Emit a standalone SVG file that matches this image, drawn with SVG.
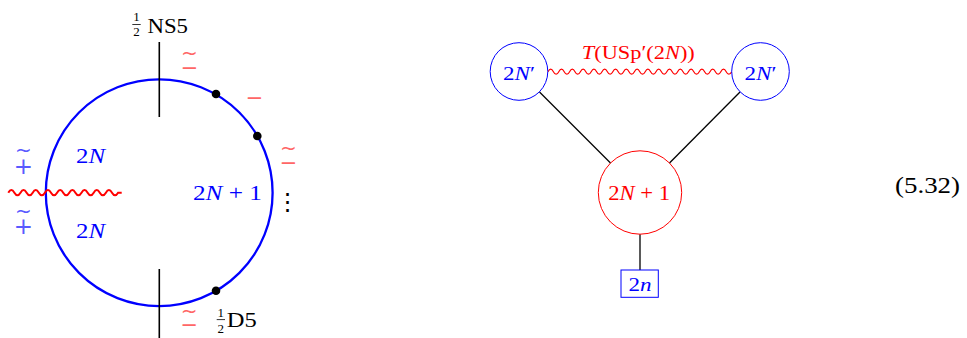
<svg xmlns="http://www.w3.org/2000/svg" width="967" height="338" viewBox="0 0 967 338">
<style>
.t{font-family:"Liberation Serif","Times New Roman",serif;}
.it{font-style:italic;}
.bl{fill:#0000ff;}
.rd{fill:#ff0000;}
.bk{fill:#000;}
.sym{font-family:"DejaVu Sans",sans-serif;text-anchor:middle;}
.rm{fill:#ff6666;}
.bm{fill:#5a5aff;}
.brane{stroke:#000;stroke-width:1.6;fill:none;}
.edge{stroke:#000;stroke-width:1.3;fill:none;}
</style>
<rect width="967" height="338" fill="#fff"/>

<!-- Left: brane circle -->
<g id="ring">
<circle cx="159.2" cy="192.7" r="113.4" fill="none" stroke="#0000ff" stroke-width="2.3"/>
</g>
<g id="ns5" font-family="Liberation Serif, serif">
<line class="brane" x1="159.3" y1="42" x2="159.3" y2="117"/>
<text class="t bk" x="136.5" y="21" font-size="13" text-anchor="middle">1</text>
<line x1="132.3" y1="24.5" x2="140.7" y2="24.5" stroke="#000" stroke-width="0.8"/>
<text class="t bk" x="136.5" y="35.5" font-size="13" text-anchor="middle">2</text>
<text class="t bk" x="147.5" y="33.3" font-size="20" textLength="40.5" lengthAdjust="spacingAndGlyphs">NS5</text>
</g>
<g id="d5" font-family="Liberation Serif, serif">
<line class="brane" x1="159.3" y1="269" x2="159.3" y2="338"/>
<text class="t bk" x="220.8" y="316.5" font-size="13" text-anchor="middle">1</text>
<line x1="216.7" y1="319.6" x2="225" y2="319.6" stroke="#000" stroke-width="0.8"/>
<text class="t bk" x="220.8" y="333" font-size="13" text-anchor="middle">2</text>
<text class="t bk" x="226.7" y="326.7" font-size="20" textLength="30" lengthAdjust="spacingAndGlyphs">D5</text>
</g>
<g id="dots">
<circle cx="216" cy="94" r="4.3" fill="#000"/>
<circle cx="257.3" cy="136" r="4.3" fill="#000"/>
<circle cx="216" cy="290.7" r="4.3" fill="#000"/>
</g>
<g id="o-plane">
<path d="M8.3,192.7 q3.05,-5.2 6.1,0 t6.1,0 t6.1,0 t6.1,0 t6.1,0 t6.1,0 t6.1,0 t6.1,0 t6.1,0 t6.1,0 t6.1,0 t6.1,0 t6.1,0 t6.1,0 t6.1,0 t6.1,0 t6.1,0 t6.1,0 L121.7,192.7" fill="none" stroke="#ff0000" stroke-width="2"/>
</g>
<g id="labels-left" font-family="Liberation Serif, serif">
<text class="t bl" x="76" y="162.7" font-size="21.5" textLength="29" lengthAdjust="spacingAndGlyphs">2<tspan class="it">N</tspan></text>
<text class="t bl" x="76" y="237.7" font-size="21.5" textLength="29" lengthAdjust="spacingAndGlyphs">2<tspan class="it">N</tspan></text>
<text class="t bl" x="193" y="200" font-size="21.5" textLength="69" lengthAdjust="spacingAndGlyphs">2<tspan class="it">N</tspan> + 1</text>
<text class="sym bk" x="287.5" y="210" font-size="24">⋮</text>
</g>
<g id="marks">
<text class="sym rm" font-size="20"><tspan x="189.5" y="59.5">~</tspan><tspan x="189.5" y="75" font-size="21">−</tspan></text>
<text class="sym rm" x="254.5" y="105" font-size="21">−</text>
<text class="sym rm" font-size="20"><tspan x="288.5" y="155">~</tspan><tspan x="288.5" y="169.5" font-size="21">−</tspan></text>
<text class="sym rm" font-size="20"><tspan x="189.2" y="317.5">~</tspan><tspan x="189.2" y="331.5" font-size="21">−</tspan></text>
<text class="sym bm" font-size="20"><tspan x="23.3" y="157">~</tspan><tspan x="23.3" y="174" font-size="23">+</tspan></text>
<text class="sym bm" font-size="20"><tspan x="23.3" y="218">~</tspan><tspan x="23.3" y="234" font-size="23">+</tspan></text>
</g>

<!-- Right: quiver -->
<g id="connectors" font-family="Liberation Serif, serif">
<line class="edge" x1="539.5" y1="92" x2="610.5" y2="163"/>
<line class="edge" x1="740" y1="92" x2="669.5" y2="163"/>
<line class="edge" x1="640" y1="234.2" x2="640" y2="270"/>
<path d="M548,71.7 q2.7,-5 5.4,0 t5.4,0 t5.4,0 t5.4,0 t5.4,0 t5.4,0 t5.4,0 t5.4,0 t5.4,0 t5.4,0 t5.4,0 t5.4,0 t5.4,0 t5.4,0 t5.4,0 t5.4,0 t5.4,0 t5.4,0 t5.4,0 t5.4,0 t5.4,0 t5.4,0 t5.4,0 t5.4,0 t5.4,0 t5.4,0 t5.4,0 t5.4,0 t5.4,0 t5.4,0 t5.4,0 t5.4,0 t5.4,0 t5.4,0" fill="none" stroke="#ff0000" stroke-width="1.2"/>
<text class="t rd" x="638.3" y="59" font-size="18" text-anchor="middle" textLength="113" lengthAdjust="spacingAndGlyphs"><tspan class="it">T</tspan>(USp′(2<tspan class="it">N</tspan>))</text>
</g>
<g id="node-left" font-family="Liberation Serif, serif">
<circle cx="519" cy="71.5" r="28.8" fill="none" stroke="#0000ff" stroke-width="1"/>
<text class="t bl" x="519" y="80" font-size="19" text-anchor="middle" textLength="32" lengthAdjust="spacingAndGlyphs">2<tspan class="it">N</tspan>′</text>
</g>
<g id="node-right" font-family="Liberation Serif, serif">
<circle cx="760.5" cy="71.5" r="28.8" fill="none" stroke="#0000ff" stroke-width="1"/>
<text class="t bl" x="760.5" y="80" font-size="19" text-anchor="middle" textLength="32" lengthAdjust="spacingAndGlyphs">2<tspan class="it">N</tspan>′</text>
</g>
<g id="node-center" font-family="Liberation Serif, serif">
<circle cx="640" cy="192.5" r="41.7" fill="none" stroke="#ff0000" stroke-width="1"/>
<text class="t rd" x="639.2" y="199.5" font-size="20" text-anchor="middle" textLength="62" lengthAdjust="spacingAndGlyphs">2<tspan class="it">N</tspan> + 1</text>
</g>
<g id="node-flavor" font-family="Liberation Serif, serif">
<rect x="621" y="270" width="37.3" height="27.3" fill="none" stroke="#0000ff" stroke-width="1"/>
<text class="t bl" x="640" y="291" font-size="19" text-anchor="middle" textLength="23" lengthAdjust="spacingAndGlyphs">2<tspan class="it">n</tspan></text>
</g>

<g id="eqno" font-family="Liberation Serif, serif">
<text class="t bk" x="895" y="192.5" font-size="24" textLength="65" lengthAdjust="spacingAndGlyphs">(5.32)</text>
</g>
</svg>
